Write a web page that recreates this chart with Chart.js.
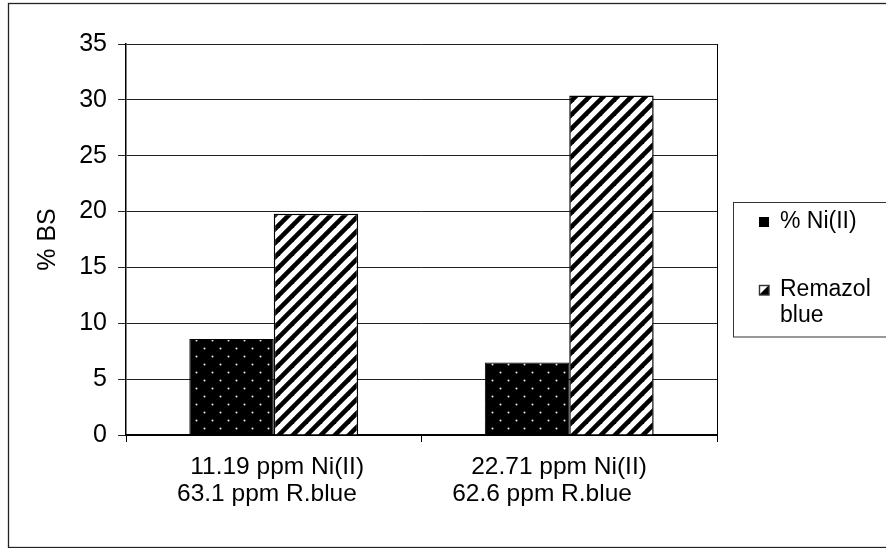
<!DOCTYPE html>
<html>
<head>
<meta charset="utf-8">
<script src="https://cdn.jsdelivr.net/npm/chart.js@4/dist/chart.umd.min.js"></script>
<style>
  html, body { margin: 0; padding: 0; background: #fff; }
  #wrap { width: 886px; height: 548px; position: relative; }
</style>
</head>
<body>
<div id="wrap"><canvas id="c" width="886" height="548"></canvas></div>
<script>
// Concentration pairs for each experiment (two lines per category label)
const categories = [
  [' 11.19 ppm Ni(II)', '63.1 ppm R.blue  '],
  ['22.71 ppm Ni(II)   ', '62.6 ppm R.blue        ']
];
const seriesNames = ['% Ni(II)', 'Remazol blue'];
const niValues = [8.6, 6.5];
const remazolValues = [19.8, 30.4];
const yTicks = [0, 5, 10, 15, 20, 25, 30, 35];

const FONT = "'Liberation Sans', Arial, Helvetica, sans-serif";

// Black fill sprinkled with small light dots
function dotPattern() {
  const t = document.createElement('canvas');
  t.width = 16; t.height = 16;
  const g = t.getContext('2d');
  g.fillStyle = '#000';
  g.fillRect(0, 0, 16, 16);
  g.fillStyle = '#f0f0f0';
  g.beginPath(); g.arc(4.5, 4.5, 1.0, 0, Math.PI * 2); g.fill();
  g.beginPath(); g.arc(12.5, 12.5, 1.0, 0, Math.PI * 2); g.fill();
  return g.createPattern(t, 'repeat');
}

// Wide black "/" stripes on white
function stripePattern() {
  const s = 14;
  const t = document.createElement('canvas');
  t.width = s; t.height = s;
  const g = t.getContext('2d');
  g.fillStyle = '#fff';
  g.fillRect(0, 0, s, s);
  g.strokeStyle = '#000';
  g.lineWidth = 4.6;
  g.lineCap = 'square';
  [-s, 0, s].forEach(dx => {
    g.beginPath();
    g.moveTo(dx - 2, s + 2);
    g.lineTo(dx + s + 2, -2);
    g.stroke();
  });
  return g.createPattern(t, 'repeat');
}

const niFill = dotPattern();
const remFill = stripePattern();

// Outer frame, right edge of the plot area and the legend box
const decorations = {
  id: 'decorations',
  afterDraw(chart) {
    const ctx = chart.ctx;
    const a = chart.chartArea;
    ctx.save();
    // plot area right edge
    ctx.strokeStyle = '#000';
    ctx.lineWidth = 1;
    ctx.beginPath();
    ctx.moveTo(Math.round(a.right) + 0.5, a.top);
    ctx.lineTo(Math.round(a.right) + 0.5, a.bottom);
    ctx.stroke();

    // outer frame
    ctx.strokeStyle = '#222';
    ctx.lineWidth = 1.3;
    ctx.strokeRect(8.5, 3.5, 900, 544);

    // legend box
    ctx.strokeStyle = '#333';
    ctx.lineWidth = 1;
    ctx.strokeRect(733.5, 202.5, 200, 134.5);

    const ds = chart.data.datasets;
    ctx.font = '23px ' + FONT;
    ctx.textBaseline = 'middle';
    ctx.textAlign = 'left';

    // first entry: solid black marker
    ctx.fillStyle = '#000';
    ctx.fillRect(759, 217, 10, 10);
    ctx.fillText(ds[0].label, 780, 222);

    // second entry: half-striped marker, label wrapped to two lines
    ctx.fillStyle = '#fff';
    ctx.fillRect(759, 285, 10, 10);
    ctx.fillStyle = '#000';
    ctx.beginPath();
    ctx.moveTo(769, 285);
    ctx.lineTo(769, 295);
    ctx.lineTo(759, 295);
    ctx.closePath();
    ctx.fill();
    ctx.lineWidth = 1.4;
    ctx.strokeRect(759.5, 285.5, 9.5, 9.5);
    const words = ds[1].label.split(' ');
    ctx.fillText(words[0], 780, 290);
    ctx.fillText(words.slice(1).join(' '), 780, 316);
    ctx.restore();
  }
};

new Chart(document.getElementById('c'), {
  type: 'bar',
  data: {
    labels: categories,
    datasets: [
      {
        label: seriesNames[0],
        data: niValues,
        backgroundColor: niFill,
        borderColor: '#000',
        borderWidth: 1
      },
      {
        label: seriesNames[1],
        data: remazolValues,
        backgroundColor: remFill,
        borderColor: '#000',
        borderWidth: 1.5
      }
    ]
  },
  options: {
    responsive: false,
    animation: false,
    events: [],
    layout: { padding: { top: 44, right: 169, left: 0, bottom: 0 } },
    plugins: {
      legend: { display: false },
      title: { display: false },
      tooltip: { enabled: false }
    },
    datasets: {
      bar: { categoryPercentage: 0.5714, barPercentage: 1.0 }
    },
    scales: {
      x: {
        grid: {
          offset: true,
          drawOnChartArea: false,
          drawTicks: true,
          tickLength: 7,
          color: '#000',
          lineWidth: 1
        },
        border: { display: true, color: '#000', width: 2 },
        ticks: {
          color: '#000',
          padding: 12,
          maxRotation: 0,
          autoSkip: false,
          font: { family: FONT, size: 24.5, lineHeight: 1.1 }
        },
        afterFit(scale) { scale.height = 113; }
      },
      y: {
        min: 0,
        max: 35,
        afterBuildTicks(scale) { scale.ticks = yTicks.map(v => ({ value: v })); },
        grid: {
          color: '#222',
          lineWidth: 1,
          drawTicks: true,
          tickLength: 8
        },
        border: { display: true, color: '#000', width: 1.5 },
        ticks: {
          color: '#000',
          padding: 11,
          font: { family: FONT, size: 25 }
        },
        title: {
          display: true,
          text: '% BS',
          color: '#000',
          padding: { top: 33, bottom: 0 },
          font: { family: FONT, size: 25, lineHeight: 1.2 }
        },
        afterFit(scale) { scale.width = 126; }
      }
    }
  },
  plugins: [decorations]
});
</script>
</body>
</html>
